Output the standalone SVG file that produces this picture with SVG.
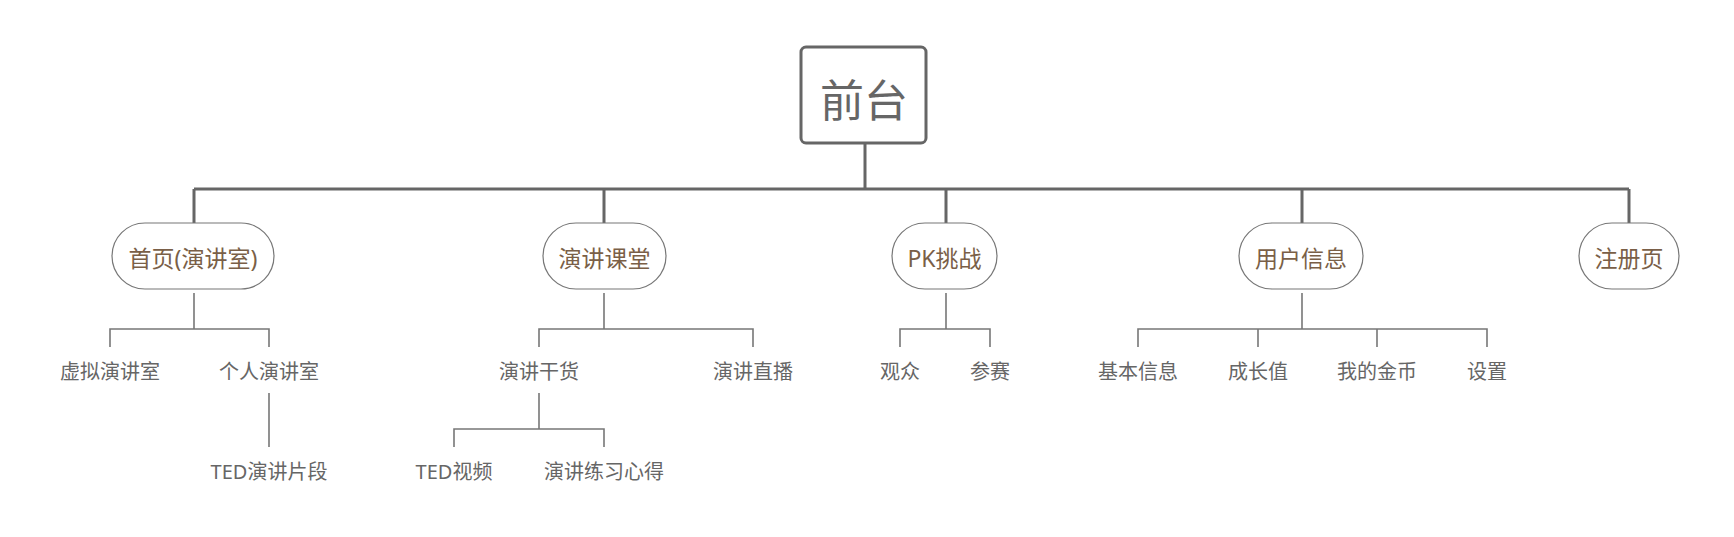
<svg xmlns="http://www.w3.org/2000/svg" width="1734" height="537" viewBox="0 0 1734 537">
<style>
.bg{fill:#ffffff}
.main{stroke:#666666;stroke-width:3;fill:none}
.sub{stroke:#777777;stroke-width:1.6;fill:none}
.pill{fill:#ffffff;stroke:#777777;stroke-width:1.2}
.root{fill:#ffffff;stroke:#666666;stroke-width:3}
text{font-family:"Noto Sans","Noto Sans CJK SC",sans-serif;text-anchor:middle;dominant-baseline:central}
.t0{font-size:44px;fill:#666666}
.t1{font-size:23px;fill:#7a5f47}
.t2{font-size:20px;fill:#666666}
</style>
<rect class="bg" x="0" y="0" width="1734" height="537"/>
<g id="connectors">
<path class="main" d="M865 143 V189 M194 189 H1629 M194 189 V223 M604 189 V223 M946 189 V223 M1302 189 V223 M1629 189 V223"/>
<path class="sub" d="M194 293 V329 M110 347 V329 H269 V347 M269 393 V447"/>
<path class="sub" d="M604 293 V329 M539 347 V329 H753 V347 M539 393 V429 M454 447 V429 H604 V447"/>
<path class="sub" d="M946 293 V329 M900 347 V329 H990 V347"/>
<path class="sub" d="M1302 293 V329 M1138 347 V329 H1487 V347 M1258 329 V347 M1377 329 V347"/>
</g>
<g id="root"><rect class="root" x="801" y="47" width="125" height="96" rx="5"/><text class="t0" x="864" y="100">前台</text></g>
<g id="home"><rect class="pill" x="112" y="223" width="162" height="66" rx="33"/><text class="t1" x="193" y="258">首页(演讲室)</text></g>
<g id="course"><rect class="pill" x="543" y="223" width="123" height="66" rx="33"/><text class="t1" x="604.5" y="258">演讲课堂</text></g>
<g id="pk"><rect class="pill" x="892" y="223" width="105" height="66" rx="33"/><text class="t1" x="944.5" y="258">PK挑战</text></g>
<g id="user"><rect class="pill" x="1239" y="223" width="124" height="66" rx="33"/><text class="t1" x="1301" y="258">用户信息</text></g>
<g id="register"><rect class="pill" x="1579" y="223" width="100" height="66" rx="33"/><text class="t1" x="1629" y="258">注册页</text></g>
<g id="virtual-room"><text class="t2" x="110" y="371">虚拟演讲室</text></g>
<g id="personal-room"><text class="t2" x="269" y="371">个人演讲室</text></g>
<g id="ted-clip"><text class="t2" x="269" y="471">TED演讲片段</text></g>
<g id="tips"><text class="t2" x="539" y="371">演讲干货</text></g>
<g id="live"><text class="t2" x="753" y="371">演讲直播</text></g>
<g id="ted-video"><text class="t2" x="454" y="471">TED视频</text></g>
<g id="practice"><text class="t2" x="604" y="471">演讲练习心得</text></g>
<g id="audience"><text class="t2" x="900" y="371">观众</text></g>
<g id="contest"><text class="t2" x="990" y="371">参赛</text></g>
<g id="basic-info"><text class="t2" x="1138" y="371">基本信息</text></g>
<g id="growth"><text class="t2" x="1258" y="371">成长值</text></g>
<g id="coins"><text class="t2" x="1377" y="371">我的金币</text></g>
<g id="settings"><text class="t2" x="1487" y="371">设置</text></g>
</svg>
